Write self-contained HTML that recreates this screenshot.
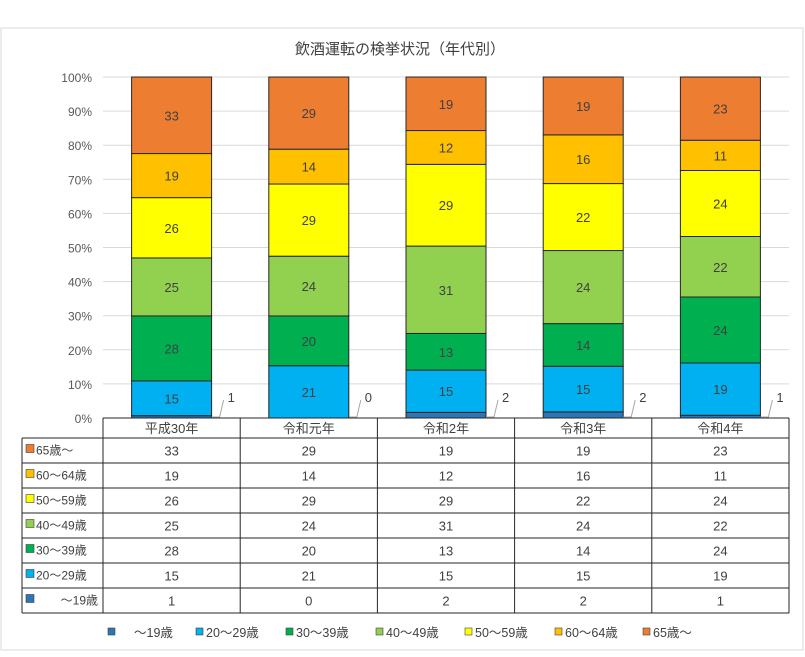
<!DOCTYPE html>
<html><head><meta charset="utf-8">
<style>
body{margin:0;background:#fff;font-family:"Liberation Sans","Noto Sans CJK JP",sans-serif;}
svg text{font-family:"Liberation Sans","Noto Sans CJK JP",sans-serif;}
</style></head>
<body>
<svg width="805" height="652" viewBox="0 0 805 652">
<rect x="1" y="28" width="802" height="622" fill="#fff" stroke="#d9d9d9"/>
<text x="400" y="54" text-anchor="middle" font-size="15" fill="#404040">飲酒運転の検挙状況（年代別）</text>
<g id="grid"></g><g id="bars"></g><g id="table"></g><g id="legend"></g>
</svg>
<script>
const categories=["平成30年","令和元年","令和2年","令和3年","令和4年"];
const seriesNames=["～19歳","20～29歳","30～39歳","40～49歳","50～59歳","60～64歳","65歳～"];
const s19=[1,0,2,2,1];
const s20=[15,21,15,15,19];
const s30=[28,20,13,14,24];
const s40=[25,24,31,24,22];
const s50=[26,29,29,22,24];
const s60=[19,14,12,16,11];
const s65=[33,29,19,19,23];
const yTicks=[0,10,20,30,40,50,60,70,80,90,100];
const colors=["#2e75b6","#00b0f0","#00b050","#92d050","#ffff00","#ffc000","#ed7d31"];
const series=[s19,s20,s30,s40,s50,s60,s65];
const NS="http://www.w3.org/2000/svg";
const X0=103,X1=789,Y0=418,Y1=77;
const step=(X1-X0)/categories.length;
const xc=i=>X0+step*(i+0.5);
const y=p=>Y0-(Y1-Y0)*-1*p/100;
function el(t,a,p,txt){const e=document.createElementNS(NS,t);for(const k in a)e.setAttribute(k,a[k]);if(txt!==undefined)e.textContent=txt;p.appendChild(e);return e;}
const grid=document.getElementById('grid');
yTicks.forEach(t=>{
 const l=el('line',{x1:X0,x2:X1,y1:y(t),y2:y(t),stroke:'#d9d9d9'},grid);
 
 
 const tx=el('text',{x:92,y:y(t)+5,'text-anchor':'end','font-size':12,fill:'#595959'},grid,t+'%');
 
 
});
const bars=document.getElementById('bars');
categories.forEach((c,i)=>{
 const tot=series.reduce((a,s)=>a+s[i],0);
 let cum=0;
 series.forEach((s,k)=>{
  const v=s[i];
  const yt=y((cum+v)/tot*100),yb=y(cum/tot*100);
  cum+=v;
  const r=el('rect',{x:xc(i)-40,y:yt,width:80,height:Math.max(0,yb-yt),fill:colors[k],stroke:'#262626','stroke-width':1},bars);
  
  
  if(k===0){
   const lx=xc(i)+40,ly=yb-1;
   const p=el('path',{d:`M${lx} ${ly} L${lx+8} ${ly} L${lx+12} ${yb-18}`,fill:'none',stroke:'#a6a6a6'},bars);
   
   
   const t=el('text',{x:lx+16,y:yb-16,'font-size':13,fill:'#404040'},bars,v);
   
   
  } else {
   const t=el('text',{x:xc(i),y:(yt+yb)/2+5,'text-anchor':'middle','font-size':13,fill:'#404040'},bars,v);
   
   
  }
 });
});
// table
const tb=document.getElementById('table');
const TL=22,HR=438,RH=25;
const nRows=series.length;
const TB=HR+RH*nRows;
el('line',{x1:X0,x2:X1,y1:Y0,y2:Y0,stroke:'#262626'},tb);
el('line',{x1:X1,x2:X1,y1:Y0,y2:TB,stroke:'#262626'},tb);
el('line',{x1:TL,x2:TL,y1:HR,y2:TB,stroke:'#262626'},tb);
for(let j=0;j<=categories.length;j++){el('line',{x1:X0+step*j,x2:X0+step*j,y1:Y0,y2:TB,stroke:'#262626'},tb);}
for(let r=0;r<=nRows;r++){el('line',{x1:TL,x2:X1,y1:HR+RH*r,y2:HR+RH*r,stroke:'#262626'},tb);}
categories.forEach((c,i)=>{
 const t=el('text',{x:xc(i),y:Y0+15,'text-anchor':'middle','font-size':13,fill:'#404040'},tb,c);
 
 
});
for(let r=0;r<nRows;r++){
 const k=nRows-1-r;const yy=HR+RH*r+RH/2;
 el('rect',{x:26,y:yy-6,width:8,height:8,fill:colors[k],stroke:'#404040','stroke-width':0.6},tb);
 const lt=el('text',{x:k===0?98:36,y:yy+4,'text-anchor':k===0?'end':'start','font-size':12,fill:'#404040'},tb,seriesNames[k]);
 
 
 series[k].forEach((v,i)=>{
  const t=el('text',{x:xc(i),y:yy+5,'text-anchor':'middle','font-size':13,fill:'#404040'},tb,v);
  
  
 });
}
// legend
const lg=document.getElementById('legend');
const lx=[108,196,286,376,465,555,643];
seriesNames.forEach((n,k)=>{
 el('rect',{x:lx[k],y:628,width:7,height:7,fill:colors[k],stroke:'#404040','stroke-width':0.6},lg);
 const t=el('text',{x:k===0?lx[k]+26:lx[k]+10,y:637,'font-size':12.5,fill:'#404040'},lg,n);
 
 
});
</script>
</body></html>
